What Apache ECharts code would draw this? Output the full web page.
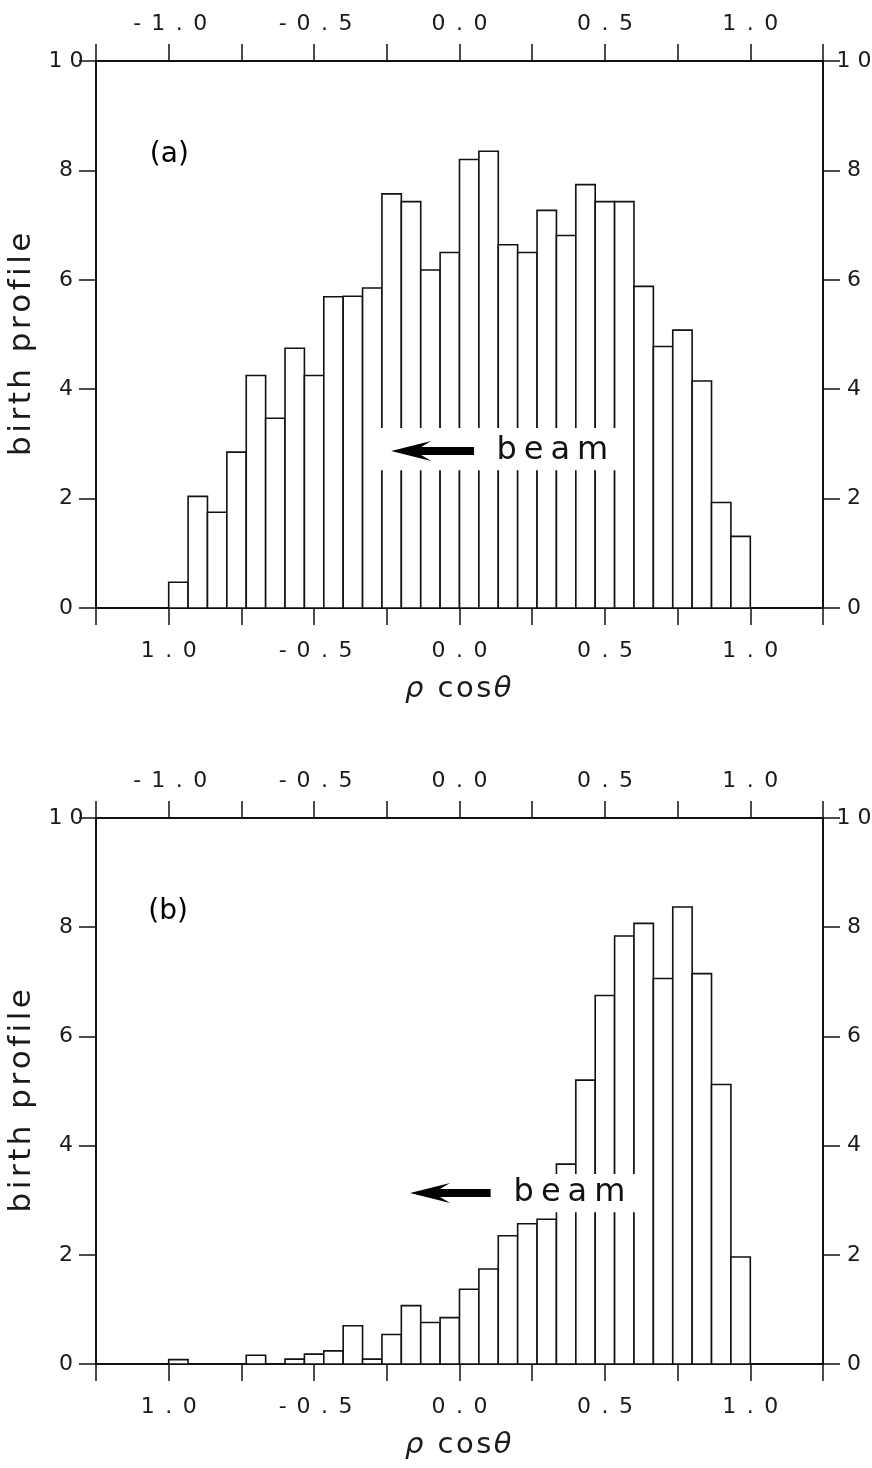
<!DOCTYPE html>
<html>
<head>
<meta charset="utf-8">
<script src="https://cdn.jsdelivr.net/npm/echarts@6/dist/echarts.min.js"></script>
<style>
html,body{margin:0;padding:0;background:#fff;}
#chart{width:872px;height:1468px;}
</style>
</head>
<body>
<div id="chart"></div>
<script>
// ---- data ----
const xTickValues = [-1, -0.5, 0, 0.5, 1];
const xTickLabelsTop = ['-1.0', '-0.5', '0.0', '0.5', '1.0'];
const xTickLabelsBottom = ['1.0', '-0.5', '0.0', '0.5', '1.0'];
const yTickLabels = ['0', '2', '4', '6', '8', '10'];
const binCount = 30;
const binStart = -1, binEnd = 1;
const valuesA = [0.47, 2.04, 1.75, 2.85, 4.25, 3.47, 4.75, 4.25, 5.69, 5.70,
                 5.85, 7.57, 7.43, 6.18, 6.50, 8.20, 8.35, 6.64, 6.50, 7.27,
                 6.81, 7.74, 7.43, 7.43, 5.88, 4.78, 5.08, 4.15, 1.93, 1.31];
const valuesB = [0.08, 0, 0, 0, 0.16, 0, 0.09, 0.18, 0.24, 0.70,
                 0.09, 0.54, 1.07, 0.76, 0.85, 1.37, 1.74, 2.35, 2.57, 2.65,
                 3.66, 5.20, 6.75, 7.84, 8.07, 7.06, 8.37, 7.15, 5.12, 1.96];
const panelLabels = ['(a)', '(b)'];
const yAxisName = 'birth profile';
const xAxisName = 'ρ cosθ';
const italicChars = 'ρθ';
const annotationText = 'beam';

// ---- layout / style ----
const FONT = 'DejaVu Sans';
const INK = '#111';
const TXT = '#1a1a1a';
const grids = [
  { left: 96, right: 49, top: 61, height: 547, containLabel: false, outerBoundsMode: 'none' },
  { left: 96, right: 49, top: 818, height: 546, containLabel: false, outerBoundsMode: 'none' }
];
// annotation placement (data units)
const annot = [
  { label: { x: -1.065, y: 8.28 }, arrow: { from: 0.05, to: -0.235, y: 2.87 }, textX: 0.127, box: { x: [-0.285, 0.545], y: [2.52, 3.29] } },
  { label: { x: -1.07, y: 8.28 }, arrow: { from: 0.107, to: -0.17, y: 3.13 }, textX: 0.186, box: { x: [-0.21, 0.62], y: [2.78, 3.48] } }
];

// ---- letter-spaced text helper (rich text, one token per character) ----
const mctx = document.createElement('canvas').getContext('2d');
function spacedText(str, prefix, fontSize, extra, italicSet) {
  const rich = {};
  let out = '';
  Array.from(str).forEach((ch, i) => {
    const key = prefix + i;
    const italic = italicSet && italicSet.indexOf(ch) >= 0;
    mctx.font = (italic ? 'italic ' : '') + fontSize + 'px "' + FONT + '"';
    const w = mctx.measureText(ch).width + extra;
    rich[key] = { width: w, align: 'left', fontFamily: FONT, fontSize: fontSize,
      fontStyle: italic ? 'italic' : 'normal', color: TXT };
    out += '{' + key + '|' + (ch === ' ' ? '\u00a0' : ch) + '}';
  });
  return { text: out, rich: rich };
}

const TICK_FS = 22, TICK_PITCH = 21;
const tickRich = { t: { width: TICK_PITCH, align: 'center', fontFamily: FONT, fontSize: TICK_FS, color: TXT } };
function tickText(s) { return Array.from(s).map(ch => '{t|' + ch + '}').join(''); }

const binW = (binEnd - binStart) / binCount;
function histData(vals) {
  return vals.map((v, i) => [binStart + i * binW, binStart + (i + 1) * binW, v]);
}
function fmtX(labels) {
  return function (val) {
    for (let i = 0; i < xTickValues.length; i++) {
      if (Math.abs(val - xTickValues[i]) < 1e-6) return tickText(labels[i]);
    }
    return '';
  };
}
function fmtY(val) {
  const idx = Math.round(val / 2);
  return Math.abs(val - idx * 2) < 1e-6 ? tickText(yTickLabels[idx]) : '';
}

const axisLine = { show: true, onZero: false, lineStyle: { color: INK, width: 2 } };
const tick = { show: true, inside: false, length: 17, lineStyle: { color: INK, width: 1.5 } };
const labelBase = { color: TXT, fontFamily: FONT, fontSize: TICK_FS, rich: tickRich, showMinLabel: true, showMaxLabel: true, hideOverlap: false };

const xName = spacedText(xAxisName, 'x', 29, 2.5, italicChars);
const yName = spacedText(yAxisName, 'y', 31, 3.5, '');

const xAxes = [], yAxes = [], series = [];
[valuesA, valuesB].forEach((vals, g) => {
  xAxes.push({
    type: 'value', gridIndex: g, position: 'bottom', min: -1.25, max: 1.25, interval: 0.25,
    axisLine, axisTick: tick, splitLine: { show: false },
    axisLabel: Object.assign({ margin: 32, formatter: fmtX(xTickLabelsBottom) }, labelBase),
    name: xName.text, nameLocation: 'middle', nameGap: 67,
    nameTextStyle: { color: TXT, fontFamily: FONT, fontSize: 29, rich: xName.rich }
  });
  xAxes.push({
    type: 'value', gridIndex: g, position: 'top', min: -1.25, max: 1.25, interval: 0.25,
    axisLine, axisTick: tick, splitLine: { show: false },
    axisLabel: Object.assign({ margin: 26, formatter: fmtX(xTickLabelsTop) }, labelBase)
  });
  yAxes.push({
    type: 'value', gridIndex: g, position: 'left', min: 0, max: 10, interval: 2,
    axisLine, axisTick: tick, splitLine: { show: false },
    axisLabel: Object.assign({ margin: 30, align: 'center', formatter: fmtY }, labelBase),
    name: yName.text, nameLocation: 'middle', nameGap: 54, nameRotate: 90,
    nameTextStyle: { color: TXT, fontFamily: FONT, fontSize: 31, rich: yName.rich, padding: [0, 16, 0, 0] }
  });
  yAxes.push({
    type: 'value', gridIndex: g, position: 'right', min: 0, max: 10, interval: 2,
    axisLine, axisTick: tick, splitLine: { show: false },
    axisLabel: Object.assign({ margin: 31, align: 'center', formatter: fmtY }, labelBase)
  });
  series.push({
    type: 'custom', xAxisIndex: g * 2, yAxisIndex: g * 2,
    data: histData(vals),
    encode: { x: [0, 1], y: 2 },
    renderItem: function (params, api) {
      const x0 = api.value(0), x1 = api.value(1), v = api.value(2);
      if (!(v > 0)) return null;
      const p0 = api.coord([x0, v]);
      const p1 = api.coord([x1, 0]);
      return {
        type: 'rect',
        shape: { x: p0[0], y: p0[1], width: p1[0] - p0[0], height: p1[1] - p0[1] },
        style: { fill: '#fff', stroke: INK, lineWidth: 1.6 }
      };
    }
  });
});

const chart = echarts.init(document.getElementById('chart'), null, { renderer: 'canvas' });
chart.setOption({
  backgroundColor: '#fff',
  animation: false,
  grid: grids,
  xAxis: xAxes,
  yAxis: yAxes,
  series: series
});

// annotations positioned through the axes
const beam = spacedText(annotationText, 'b', 32, 7, '');
const elements = [];
annot.forEach((a, g) => {
  const c = (x, y) => chart.convertToPixel({ gridIndex: g }, [x, y]);
  const lab = c(a.label.x, a.label.y);
  elements.push({ type: 'text', z: 100, x: lab[0], y: lab[1],
    style: { text: panelLabels[g], fill: '#000', font: '28px "DejaVu Sans"', align: 'left', verticalAlign: 'middle' } });
  const b0 = c(a.box.x[0], a.box.y[1]);
  const b1 = c(a.box.x[1], a.box.y[0]);
  elements.push({ type: 'rect', z: 99, shape: { x: b0[0], y: b0[1], width: b1[0] - b0[0], height: b1[1] - b0[1] },
    style: { fill: '#fff' } });
  const tail = c(a.arrow.from, a.arrow.y);
  const tip = c(a.arrow.to, a.arrow.y);
  const headLen = 40, headHalf = 10, notch = 30, shaftHalf = 4;
  const y = tip[1];
  elements.push({ type: 'polygon', z: 100, shape: { points: [
      [tip[0], y], [tip[0] + headLen, y - headHalf], [tip[0] + notch, y - shaftHalf], [tail[0], y - shaftHalf],
      [tail[0], y + shaftHalf], [tip[0] + notch, y + shaftHalf], [tip[0] + headLen, y + headHalf]
    ] }, style: { fill: '#000' } });
  const tp = c(a.textX, a.arrow.y);
  elements.push({ type: 'text', z: 100, x: tp[0], y: tp[1],
    style: { text: beam.text, rich: beam.rich, fill: '#111', align: 'left', verticalAlign: 'middle' } });
});
chart.setOption({ graphic: { elements: elements } });
</script>
</body>
</html>
